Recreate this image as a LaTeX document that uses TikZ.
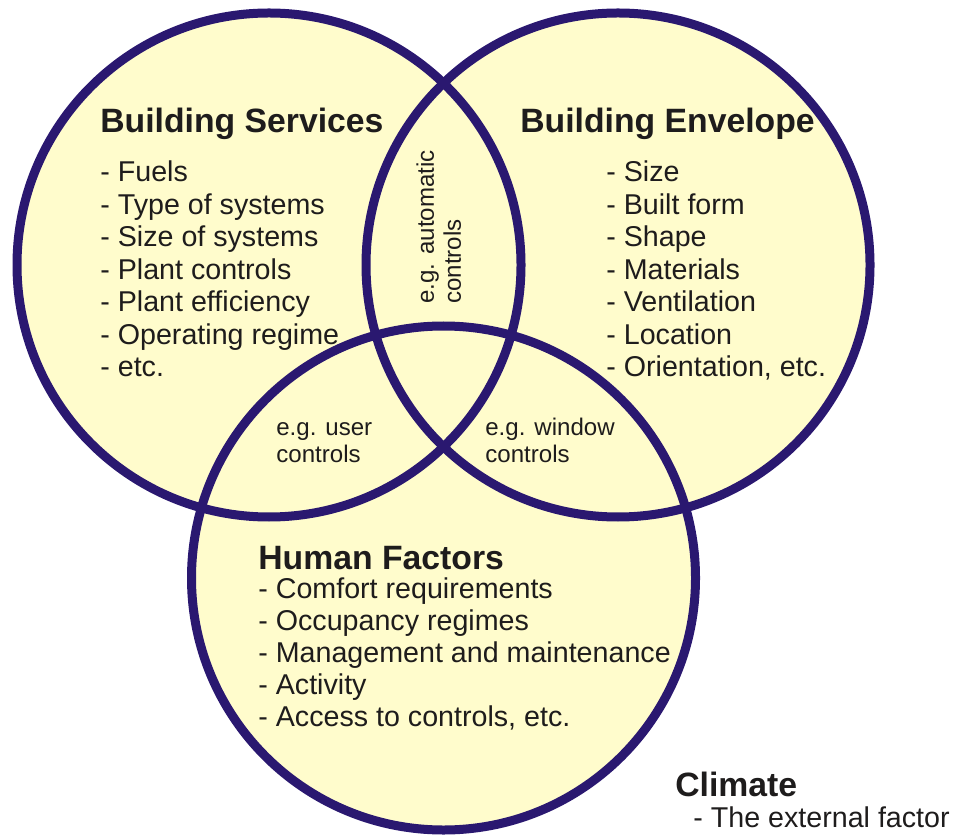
\documentclass[tikz,border=0pt]{standalone}
\usepackage{fontspec}
\setmainfont{Liberation Sans}
\usepackage{tikz}

\definecolor{ringblue}{RGB}{42,24,112}
\definecolor{ringfill}{RGB}{255,252,204}
\definecolor{inktext}{RGB}{30,28,28}

\begin{document}
\begin{tikzpicture}
    \pgfmathsetmacro{\ringradius}{5.04}
    \pgfmathsetmacro{\ringwidth}{0.18}
    \pgfmathsetmacro{\leftx}{5.38}
    \pgfmathsetmacro{\rightx}{12.36}
    \pgfmathsetmacro{\topy}{11.38}
    \pgfmathsetmacro{\bottomx}{8.87}
    \pgfmathsetmacro{\bottomy}{5.12}
    \providecommand{\headfontsize}{\fontsize{19.2pt}{22pt}\selectfont}
    \providecommand{\itemfontsize}{\fontsize{16.3pt}{18.5pt}\selectfont}
    \providecommand{\humanfontsize}{\fontsize{16.3pt}{18.2pt}\selectfont}
    \providecommand{\notefontsize}{\fontsize{13.7pt}{15.4pt}\selectfont}
    \useasboundingbox (0,0) rectangle (19.12,16.68);
    % the three rings, filled first and outlined after
    \fill[ringfill] (\leftx,\topy) circle (\ringradius);
    \fill[ringfill] (\rightx,\topy) circle (\ringradius);
    \fill[ringfill] (\bottomx,\bottomy) circle (\ringradius);
    \draw[line width=\ringwidth cm,ringblue] (\leftx,\topy) circle (\ringradius);
    \draw[line width=\ringwidth cm,ringblue] (\rightx,\topy) circle (\ringradius);
    \draw[line width=\ringwidth cm,ringblue] (\bottomx,\bottomy) circle (\ringradius);
    \node[anchor=base west,inner sep=0,text=inktext,font=\headfontsize\bfseries] (services) at (2.00,14.02) {Building Services};
    \node[anchor=north west,inner sep=0,align=left,text=inktext,font=\itemfontsize] (serviceslist) at (2.00,13.47)
    {- Fuels\\- Type of systems\\- Size of systems\\- Plant controls\\- Plant efficiency\\- Operating regime\\- etc.};
    \node[anchor=base west,inner sep=0,text=inktext,font=\headfontsize\bfseries] (envelope) at (10.40,14.02) {Building Envelope};
    \node[anchor=north west,inner sep=0,align=left,text=inktext,font=\itemfontsize] (envelopelist) at (12.12,13.47)
    {- Size\\- Built form\\- Shape\\- Materials\\- Ventilation\\- Location\\- Orientation, etc.};
    \node[anchor=base west,inner sep=0,text=inktext,font=\headfontsize\bfseries] (human) at (5.16,5.30) {Human Factors};
    \node[anchor=north west,inner sep=0,align=left,text=inktext,font=\humanfontsize] (humanlist) at (5.16,5.14)
    {- Comfort requirements\\- Occupancy regimes\\- Management and maintenance\\- Activity\\- Access to controls, etc.};
    % overlap notes
    \node[anchor=north west,inner sep=0,align=left,rotate=90,text=inktext,font=\notefontsize] (autonote) at (8.32,10.60) {e.g. automatic\\controls};
    \node[anchor=north west,inner sep=0,align=left,text=inktext,font=\notefontsize] (usernote) at (5.52,8.24) {e.g. user\\controls};
    \node[anchor=north west,inner sep=0,align=left,text=inktext,font=\notefontsize] (windownote) at (9.70,8.32) {e.g. window\\controls};
    \node[anchor=base west,inner sep=0,text=inktext,font=\headfontsize\bfseries] (climate) at (13.50,0.76) {Climate};
    \node[anchor=base west,inner sep=0,text=inktext,font=\itemfontsize] (climateitem) at (13.86,0.14) {- The external factor};
\end{tikzpicture}
\end{document}
